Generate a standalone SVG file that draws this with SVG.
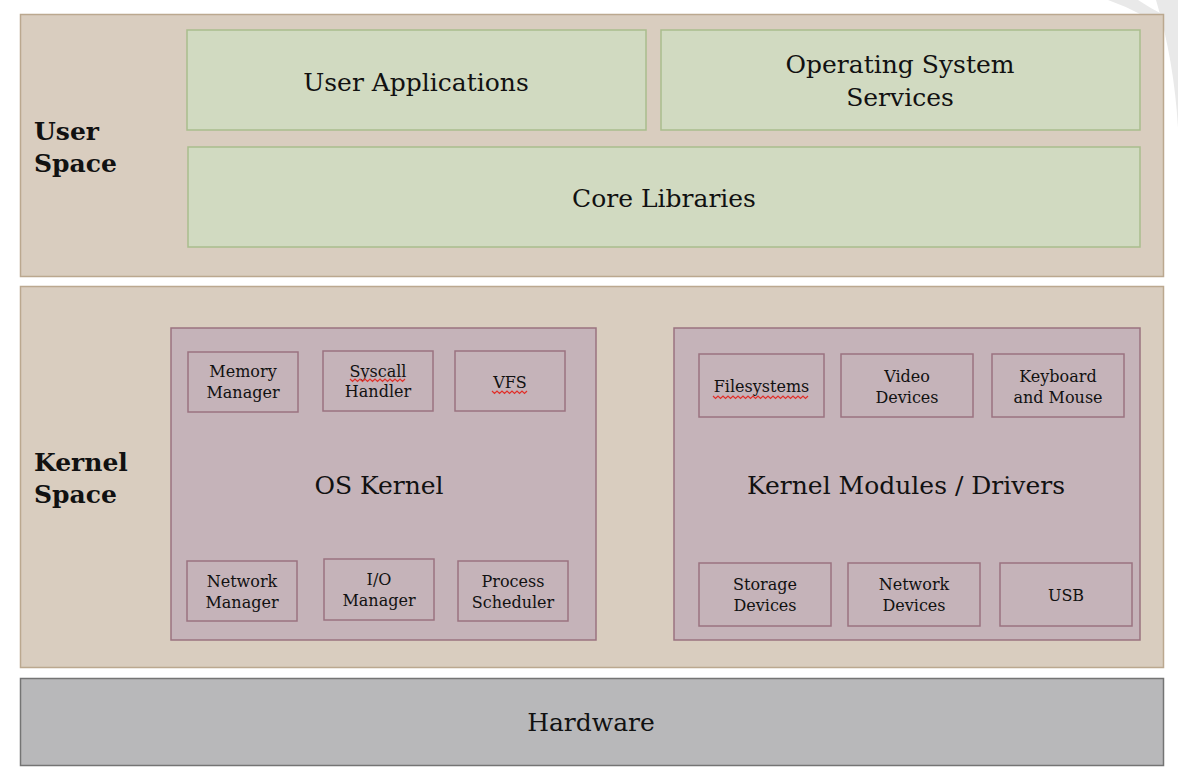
<svg xmlns="http://www.w3.org/2000/svg" width="1178" height="784" viewBox="0 0 1178 784">
<style>
text{font-family:"DejaVu Serif","Liberation Serif",serif;fill:#111;text-anchor:middle}
.big{font-size:25px}
.sm{font-size:16px}
.sec{font-size:25px;font-weight:bold;text-anchor:start}
.panel{fill:#d9cdbf;stroke:#bba88f;stroke-width:1.5}
.green{fill:#d1dac1;stroke:#a9bd8d;stroke-width:1.5}
.mauve{fill:#c5b3b9;stroke:#9a7380;stroke-width:1.5}
.hw{fill:#b8b8ba;stroke:#747474;stroke-width:1.5}
.sq{fill:none;stroke:#e0302a;stroke-width:1.2}
</style>
<rect width="1178" height="784" fill="#fff"/>
<g id="watermark" fill="#e9e9e9">
<path d="M1108,0 L1138,0 Q1150,8 1162,14 L1140,14 Q1125,6 1108,0 Z"/>
<path d="M1156,0 L1178,0 L1178,128 Q1174,60 1156,0 Z"/>
</g>
<g id="user-space">
<rect class="panel" x="20.5" y="14.5" width="1143" height="262"/>
<text class="sec" x="34" y="140">User</text>
<text class="sec" x="34" y="172">Space</text>
</g>
<g id="user-applications">
<rect class="green" x="187" y="30" width="459" height="100"/>
<text class="big" x="416" y="91">User Applications</text>
</g>
<g id="os-services">
<rect class="green" x="661" y="30" width="479" height="100"/>
<text class="big" x="900" y="73">Operating System</text>
<text class="big" x="900" y="106">Services</text>
</g>
<g id="core-libraries">
<rect class="green" x="188" y="147" width="952" height="100"/>
<text class="big" x="664" y="207">Core Libraries</text>
</g>
<g id="kernel-space">
<rect class="panel" x="20.5" y="286.5" width="1143" height="381"/>
<text class="sec" x="34" y="471">Kernel</text>
<text class="sec" x="34" y="503">Space</text>
</g>
<g id="os-kernel">
<rect class="mauve" x="171" y="328" width="425" height="312"/>
<text class="big" x="379" y="494">OS Kernel</text>
</g>
<g id="memory-manager">
<rect class="mauve" x="188" y="352" width="110" height="60"/>
<text class="sm" x="243" y="377">Memory</text>
<text class="sm" x="243" y="398">Manager</text>
</g>
<g id="syscall-handler">
<rect class="mauve" x="323" y="351" width="110" height="60"/>
<text class="sm" x="378" y="377">Syscall</text>
<text class="sm" x="378" y="397">Handler</text>
<path class="sq" d="M350,379 l2.5,2.5 l2.5,-2.5 l2.5,2.5 l2.5,-2.5 l2.5,2.5 l2.5,-2.5 l2.5,2.5 l2.5,-2.5 l2.5,2.5 l2.5,-2.5 l2.5,2.5 l2.5,-2.5 l2.5,2.5 l2.5,-2.5 l2.5,2.5 l2.5,-2.5 l2.5,2.5 l2.5,-2.5 l2.5,2.5 l2.5,-2.5 l2.5,2.5 l2.5,-2.5"/>
</g>
<g id="vfs">
<rect class="mauve" x="455" y="351" width="110" height="60"/>
<text class="sm" x="510" y="388">VFS</text>
<path class="sq" d="M492,391 l2.5,2.5 l2.5,-2.5 l2.5,2.5 l2.5,-2.5 l2.5,2.5 l2.5,-2.5 l2.5,2.5 l2.5,-2.5 l2.5,2.5 l2.5,-2.5 l2.5,2.5 l2.5,-2.5 l2.5,2.5 l2.5,-2.5"/>
</g>
<g id="network-manager">
<rect class="mauve" x="187" y="561" width="110" height="60"/>
<text class="sm" x="242" y="587">Network</text>
<text class="sm" x="242" y="608">Manager</text>
</g>
<g id="io-manager">
<rect class="mauve" x="324" y="559" width="110" height="61"/>
<text class="sm" x="379" y="585">I/O</text>
<text class="sm" x="379" y="606">Manager</text>
</g>
<g id="process-scheduler">
<rect class="mauve" x="458" y="561" width="110" height="60"/>
<text class="sm" x="513" y="587">Process</text>
<text class="sm" x="513" y="608">Scheduler</text>
</g>
<g id="kernel-modules">
<rect class="mauve" x="674" y="328" width="466" height="312"/>
<text class="big" x="906" y="494">Kernel Modules / Drivers</text>
</g>
<g id="filesystems">
<rect class="mauve" x="699" y="354" width="125" height="63"/>
<text class="sm" x="761.5" y="392">Filesystems</text>
<path class="sq" d="M713,396 l2.5,2.5 l2.5,-2.5 l2.5,2.5 l2.5,-2.5 l2.5,2.5 l2.5,-2.5 l2.5,2.5 l2.5,-2.5 l2.5,2.5 l2.5,-2.5 l2.5,2.5 l2.5,-2.5 l2.5,2.5 l2.5,-2.5 l2.5,2.5 l2.5,-2.5 l2.5,2.5 l2.5,-2.5 l2.5,2.5 l2.5,-2.5 l2.5,2.5 l2.5,-2.5 l2.5,2.5 l2.5,-2.5 l2.5,2.5 l2.5,-2.5 l2.5,2.5 l2.5,-2.5 l2.5,2.5 l2.5,-2.5 l2.5,2.5 l2.5,-2.5 l2.5,2.5 l2.5,-2.5 l2.5,2.5 l2.5,-2.5 l2.5,2.5 l2.5,-2.5"/>
</g>
<g id="video-devices">
<rect class="mauve" x="841" y="354" width="132" height="63"/>
<text class="sm" x="907" y="382">Video</text>
<text class="sm" x="907" y="403">Devices</text>
</g>
<g id="keyboard-mouse">
<rect class="mauve" x="992" y="354" width="132" height="63"/>
<text class="sm" x="1058" y="382">Keyboard</text>
<text class="sm" x="1058" y="403">and Mouse</text>
</g>
<g id="storage-devices">
<rect class="mauve" x="699" y="563" width="132" height="63"/>
<text class="sm" x="765" y="590">Storage</text>
<text class="sm" x="765" y="611">Devices</text>
</g>
<g id="network-devices">
<rect class="mauve" x="848" y="563" width="132" height="63"/>
<text class="sm" x="914" y="590">Network</text>
<text class="sm" x="914" y="611">Devices</text>
</g>
<g id="usb">
<rect class="mauve" x="1000" y="563" width="132" height="63"/>
<text class="sm" x="1066" y="601">USB</text>
</g>
<g id="hardware">
<rect class="hw" x="20.5" y="678.5" width="1143" height="87"/>
<text class="big" x="591" y="731">Hardware</text>
</g>
<g id="connectors"></g>
</svg>
